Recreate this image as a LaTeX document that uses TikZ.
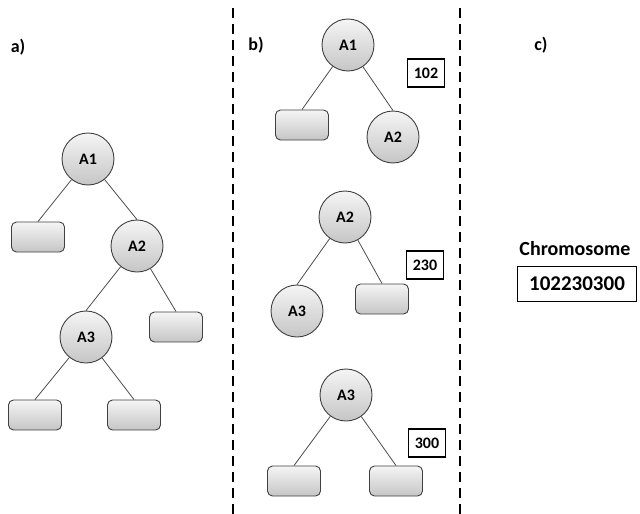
\documentclass[tikz,border=0pt]{standalone}
\usepackage{fontspec}
\setmainfont{Carlito}
\usepackage{tikz}
\usetikzlibrary{positioning}

\begin{document}
\begin{tikzpicture}[x=1pt, y=-1pt]
\tikzset{
  gene/.style={circle, draw=black!75, line width=0.9pt, minimum size=52pt, inner sep=0,
    top color=gray!8, bottom color=gray!45, font=\fontsize{16}{19}\selectfont\bfseries},
  leaf/.style={rectangle, rounded corners=5pt, draw=black!75, line width=0.9pt,
    minimum width=53pt, minimum height=30pt, top color=gray!8, bottom color=gray!45},
  code/.style={rectangle, draw=black, line width=1.4pt, minimum width=37pt, minimum height=28pt,
    inner sep=0, font=\fontsize{16}{19}\selectfont\bfseries},
  edge/.style={draw=black!70, line width=0.8pt},
  panel/.style={font=\fontsize{18}{21}\selectfont\bfseries},
}
  \useasboundingbox (0,0) rectangle (640,514);

  % Column separators
  \draw[line width=1.2pt, dash pattern=on 10pt off 6pt] (233,8) -- (233,514);
  \draw[line width=1.2pt, dash pattern=on 10pt off 6pt] (460,8) -- (460,514);

  % a) complete tree
  \node[panel] (la) at (18,47) {a)};
  \node[gene] (aA1) at (88,159) {A1};
  \node[leaf] (aL1) at (38,237) {};
  \node[gene] (aA2) at (137,246) {A2};
  \node[leaf] (aL2) at (176,327) {};
  \node[gene] (aA3) at (86,337) {A3};
  \node[leaf] (aL3) at (35,415) {};
  \node[leaf] (aL4) at (134,415) {};
  \draw[edge] (aA1) -- (aL1.north);
  \draw[edge] (aA1) -- (aA2.north);
  \draw[edge] (aA2) -- (aA3.north);
  \draw[edge] (aA2) -- (aL2.north);
  \draw[edge] (aA3) -- (aL3.north);
  \draw[edge] (aA3) -- (aL4.north);

  % b) one subtree per gene, with its code
  \node[panel] (lb) at (256,45) {b)};
  % gene A1
  \node[gene] (bA1) at (348,45) {A1};
  \node[leaf] (bL1) at (302,125) {};
  \node[gene] (bA2) at (393,137) {A2};
  \node[code] (c1) at (426,73) {102};
  \draw[edge] (bA1) -- (bL1.north);
  \draw[edge] (bA1) -- (bA2.north);
  % gene A2
  \node[gene] (bB2) at (345,217) {A2};
  \node[gene] (bB3) at (297,311) {A3};
  \node[leaf] (bL2) at (382,299) {};
  \node[code] (c2) at (425,265) {230};
  \draw[edge] (bB2) -- (bB3.north);
  \draw[edge] (bB2) -- (bL2.north);
  % gene A3
  \node[gene] (bC3) at (346,395) {A3};
  \node[leaf] (bL3) at (294,481) {};
  \node[leaf] (bL4) at (396,481) {};
  \node[code] (c3) at (427,443) {300};
  \draw[edge] (bC3) -- (bL3.north);
  \draw[edge] (bC3) -- (bL4.north);

  % c) resulting chromosome
  \node[panel] (lc) at (541,45) {c)};
  \node[font=\fontsize{20}{23}\selectfont\bfseries] (chr) at (575,249) {Chromosome};
  \node[code, minimum width=119pt, minimum height=35pt, line width=1.2pt,
    font=\fontsize{21}{24}\selectfont\bfseries] (chrom) at (577,284) {102230300};
\end{tikzpicture}
\end{document}
